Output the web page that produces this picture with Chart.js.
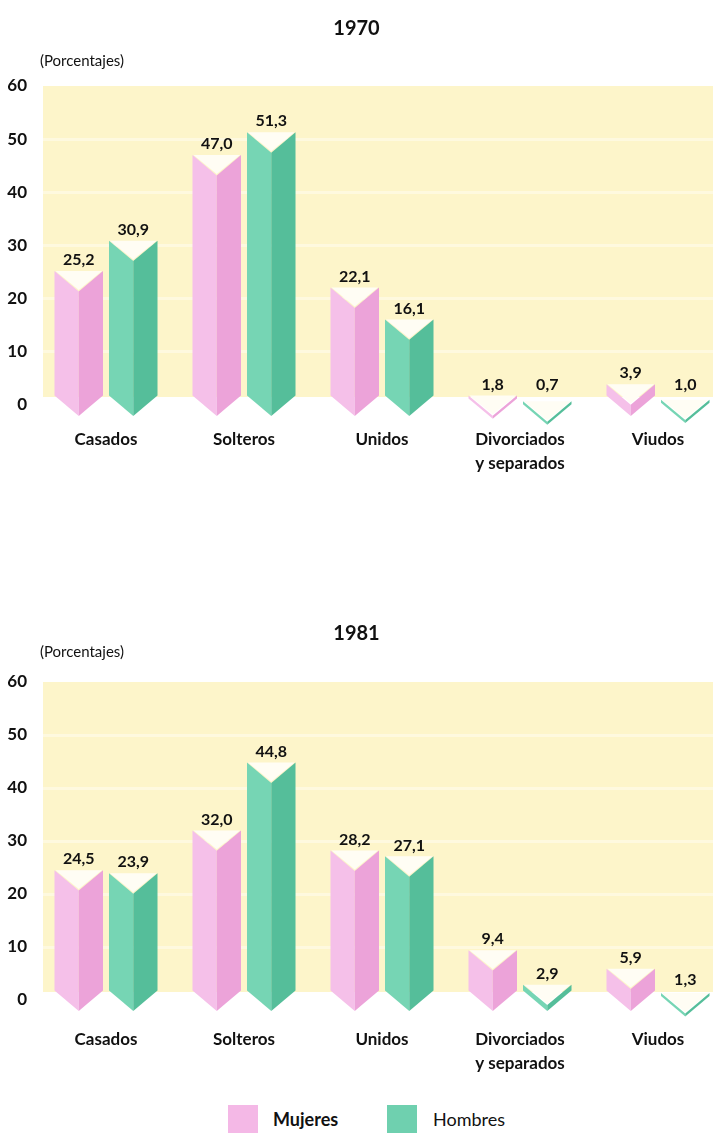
<!DOCTYPE html>
<html>
<head>
<meta charset="utf-8">
<script src="https://cdn.jsdelivr.net/npm/chart.js@4.4.1/dist/chart.umd.min.js"></script>
<style>
  html, body { margin: 0; padding: 0; background: #fff; width: 713px; height: 1136px; overflow: hidden; }
  body { position: relative; font-family: Lato, "Open Sans", sans-serif; color: #111; }
  .panel { position: absolute; left: 0; width: 713px; height: 500px; overflow: hidden; }
  #panel1970 { top: 0; }
  #panel1981 { top: 596px; }
  canvas { display: block; }
  .year { position: absolute; left: 0; width: 713px; text-align: center; font-weight: 700; font-size: 20px; line-height: 22px; }
  .unit { position: absolute; left: 40px; font-size: 15px; line-height: 18px; }
  .legend { position: absolute; top: 1105px; left: 0; width: 713px; height: 30px; }
  .swatch { position: absolute; top: 0; width: 30px; height: 28px; }
  .legtxt { position: absolute; top: 3px; font-size: 18px; line-height: 22px; }
</style>
</head>
<body>
<div class="panel" id="panel1970"><canvas id="c1970" width="727" height="500"></canvas></div>
<div class="panel" id="panel1981"><canvas id="c1981" width="727" height="500"></canvas></div>

<div class="year" style="top:16px">1970</div>
<div class="unit" style="top:51px">(Porcentajes)</div>
<div class="year" style="top:621px">1981</div>
<div class="unit" style="top:642px">(Porcentajes)</div>

<div class="legend">
  <div class="swatch" style="left:228px;background:#f4b8e6"></div>
  <div class="legtxt" style="left:273px;font-weight:700">Mujeres</div>
  <div class="swatch" style="left:387px;background:#6fd0af"></div>
  <div class="legtxt" style="left:433px">Hombres</div>
</div>

<script>
// Estado civil de la población, por sexo (porcentajes)
const categorias = [['Casados'], ['Solteros'], ['Unidos'], ['Divorciados', 'y separados'], ['Viudos']];
const mujeres1970 = [25.2, 47.0, 22.1, 1.8, 3.9];
const hombres1970 = [30.9, 51.3, 16.1, 0.7, 1.0];
const mujeres1981 = [24.5, 32.0, 28.2, 9.4, 5.9];
const hombres1981 = [23.9, 44.8, 27.1, 2.9, 1.3];
const escalaMin = 0;
const escalaMax = 60;
const escalaPaso = 10;

Chart.defaults.font.family = 'Lato, "Open Sans", sans-serif';
Chart.defaults.color = '#111';

const coloresMujeres = { light: '#f5c0e9', dark: '#eca3d9' };
const coloresHombres = { light: '#76d5b4', dark: '#55be9a' };

// Yellow plotting field behind the bars
const fondo = {
  id: 'fondo',
  beforeDraw(chart) {
    const { ctx, chartArea, scales } = chart;
    const top = scales.y.getPixelForValue(escalaMax);
    const bottom = scales.y.getPixelForValue(escalaMin) - 8;
    ctx.save();
    ctx.fillStyle = '#fdf5ca';
    ctx.fillRect(chartArea.left + 6, top, chartArea.right - chartArea.left - 6, bottom - top);
    ctx.restore();
  }
};

// Prism-shaped bars with notched tops and pointed bottoms, plus value labels
const prismas = {
  id: 'prismas',
  afterDatasetsDraw(chart) {
    const { ctx } = chart;
    chart.data.datasets.forEach((ds, di) => {
      const meta = chart.getDatasetMeta(di);
      const col = ds.prismColors;
      meta.data.forEach((el, i) => {
        const p = el.getProps(['x', 'y', 'base', 'width'], true);
        const w = p.width;
        const L = p.x - w / 2, R = p.x + w / 2, C = p.x;
        const d = w * 0.42;
        const topY = p.y;
        const botY = Math.max(topY + 3, p.base - 8);
        ctx.save();
        // left face
        ctx.fillStyle = col.light;
        ctx.beginPath();
        ctx.moveTo(L, topY); ctx.lineTo(C, topY + d); ctx.lineTo(C, botY + d); ctx.lineTo(L, botY);
        ctx.closePath(); ctx.fill();
        // right face
        ctx.fillStyle = col.dark;
        ctx.beginPath();
        ctx.moveTo(C, topY + d); ctx.lineTo(R, topY); ctx.lineTo(R, botY); ctx.lineTo(C, botY + d);
        ctx.closePath(); ctx.fill();
        // pale top face inside the notch
        ctx.fillStyle = '#fffdf4';
        ctx.beginPath();
        ctx.moveTo(L + 1, topY); ctx.lineTo(C, topY + d - 1.5); ctx.lineTo(R - 1, topY);
        ctx.closePath(); ctx.fill();
        // value label
        const v = ds.data[i];
        ctx.fillStyle = '#111';
        ctx.font = 'bold 16px Lato, "Open Sans", sans-serif';
        ctx.textAlign = 'center';
        ctx.textBaseline = 'middle';
        ctx.fillText(v.toFixed(1).replace('.', ','), C, Math.min(topY, p.base - 8) - 11);
        ctx.restore();
      });
    });
  }
};

function grafico(id, mujeres, hombres, labelPad, xHeight) {
  return new Chart(document.getElementById(id), {
    type: 'bar',
    data: {
      labels: categorias,
      datasets: [
        { label: 'Mujeres', data: mujeres, backgroundColor: 'rgba(0,0,0,0)', prismColors: coloresMujeres },
        { label: 'Hombres', data: hombres, backgroundColor: 'rgba(0,0,0,0)', prismColors: coloresHombres }
      ]
    },
    options: {
      responsive: false,
      animation: false,
      events: [],
      layout: { padding: { top: 86, left: 0, right: 0, bottom: 0 } },
      datasets: { bar: { categoryPercentage: 0.79, barPercentage: 0.89 } },
      plugins: { legend: { display: false }, title: { display: false }, tooltip: { enabled: false } },
      scales: {
        x: {
          grid: { display: false, drawTicks: false },
          border: { display: false },
          ticks: {
            padding: labelPad,
            maxRotation: 0,
            autoSkip: false,
            font: { size: 17, weight: 'bold', lineHeight: 1.38 },
            color: '#111'
          },
          afterFit(scale) { scale.height = xHeight; }
        },
        y: {
          min: escalaMin,
          max: escalaMax,
          grid: {
            drawTicks: false,
            lineWidth: 3,
            color: (c) => (c.tick && c.tick.value > escalaMin && c.tick.value < escalaMax) ? 'rgba(255,255,255,0.4)' : 'rgba(0,0,0,0)'
          },
          border: { display: false },
          ticks: {
            stepSize: escalaPaso,
            padding: 10,
            font: { size: 17, weight: 'bold' },
            color: '#111'
          },
          afterFit(scale) { scale.width = 37; }
        }
      }
    },
    plugins: [fondo, prismas]
  });
}

grafico('c1970', mujeres1970, hombres1970, 23, 95);
grafico('c1981', mujeres1981, hombres1981, 28, 96);
</script>
</body>
</html>
